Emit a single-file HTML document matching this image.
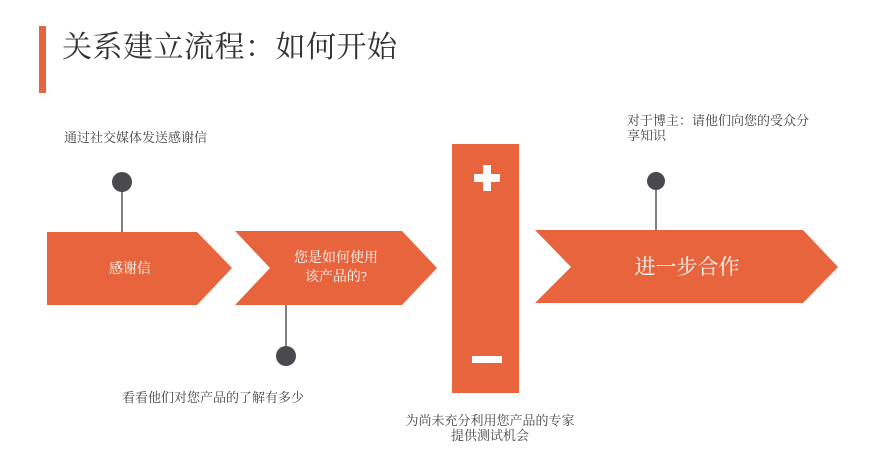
<!DOCTYPE html>
<html><head><meta charset="utf-8"><style>
body{margin:0;width:872px;height:471px;background:#fff;position:relative;overflow:hidden;font-family:"Liberation Serif","Noto Serif CJK SC",serif;}
.t{position:absolute;color:#444;font-size:13px;line-height:15px;white-space:nowrap;}
</style></head><body>
<div style="position:absolute;left:39px;top:26px;width:7px;height:67px;background:#E8643C"></div>
<div style="position:absolute;left:62px;top:24px;font-size:30px;color:#333;line-height:40px;font-family:'Noto Serif CJK SC',serif;letter-spacing:0.5px">关系建立流程：如何开始</div>
<svg width="872" height="471" style="position:absolute;left:0;top:0">
<g fill="#E8643C">
<polygon points="47,232 197,232 232,268 197,305 47,305"/>
<polygon points="235,231 402,231 437,268 402,305 235,305 270,268"/>
<rect x="452" y="144" width="67" height="249"/>
<polygon points="535,230 803,230 838,267 803,303 535,303 571,267"/>
</g>
<g fill="#fff">
<rect x="474" y="174" width="26" height="8"/><rect x="483" y="165" width="8" height="26"/>
<rect x="472" y="356" width="30" height="7"/>
</g>
<g stroke="#555" stroke-width="1.5"><line x1="122" y1="182" x2="122" y2="232"/><line x1="286" y1="305" x2="286" y2="356"/><line x1="656" y1="181" x2="656" y2="230"/></g>
<g fill="#4a4a4e"><circle cx="122" cy="182" r="10"/><circle cx="286" cy="356" r="10"/><circle cx="656" cy="181" r="9"/></g>
<g fill="#fff" font-family="Liberation Serif,Noto Serif CJK SC,serif" text-anchor="middle">
<text x="130" y="273" font-size="14">感谢信</text>
<text x="336" y="262" font-size="14">您是如何使用</text>
<text x="336" y="281" font-size="14">该产品的?</text>
<text x="687" y="274" font-size="21">进一步合作</text>
</g>
</svg>
<div class="t" style="left:64px;top:130px">通过社交媒体发送感谢信</div>
<div class="t" style="left:122px;top:390px">看看他们对您产品的了解有多少</div>
<div class="t" style="left:400px;top:413px;width:180px;text-align:center">为尚未充分利用您产品的专家<br>提供测试机会</div>
<div class="t" style="left:627px;top:113px">对于博主：请他们向您的受众分<br>享知识</div>
</body></html>
